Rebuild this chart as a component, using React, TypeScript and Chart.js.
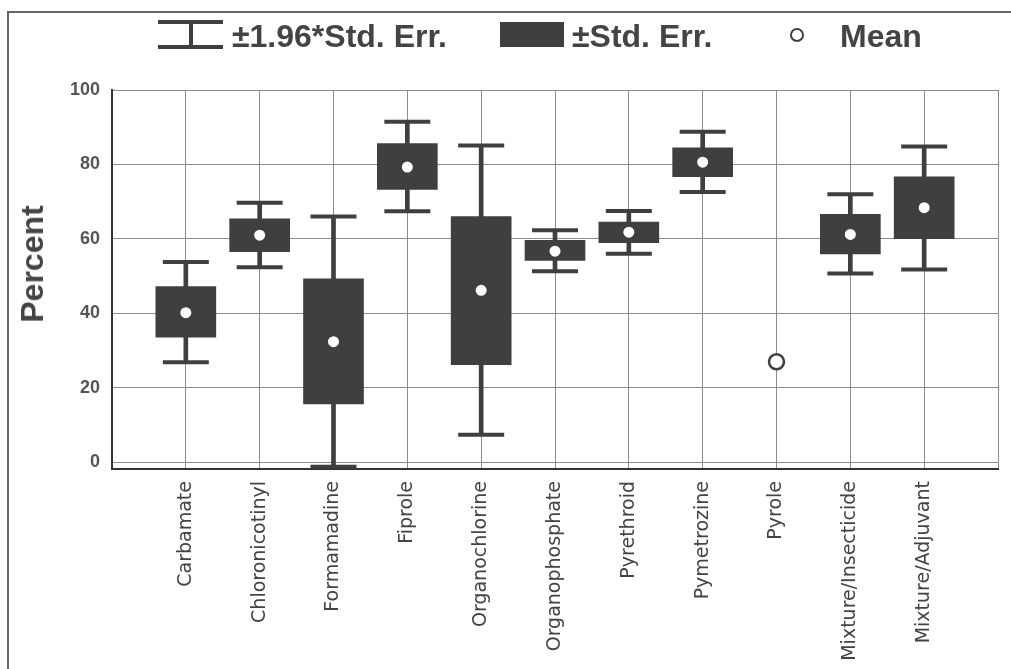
import React, { useEffect, useRef } from "react";
import { Chart, registerables } from "chart.js";

Chart.register(...registerables);

const categories = [
  "Carbamate",
  "Chloronicotinyl",
  "Formamadine",
  "Fiprole",
  "Organochlorine",
  "Organophosphate",
  "Pyrethroid",
  "Pymetrozine",
  "Pyrole",
  "Mixture/Insecticide",
  "Mixture/Adjuvant",
];

const means = [40.2, 61.0, 32.4, 79.3, 46.2, 56.7, 61.8, 80.6, 27.0, 61.2, 68.4];
const boxLow = [33.6, 56.6, 15.7, 73.3, 26.2, 54.2, 59.0, 76.7, null, 56.0, 60.1];
const boxHigh = [47.2, 65.4, 49.3, 85.6, 66.0, 59.6, 64.5, 84.5, null, 66.6, 76.7];
const whiskerLow = [26.9, 52.4, -1.2, 67.4, 7.4, 51.3, 56.0, 72.6, null, 50.7, 51.8];
const whiskerHigh = [53.8, 69.7, 66.0, 91.5, 85.1, 62.3, 67.5, 88.8, null, 72.0, 84.8];

const yTicks = [0, 20, 40, 60, 80, 100];

const DARK = "#3f3f3f";
const TEXT = "#444";

function pad<T>(arr: T[]): (T | null)[] {
  return [null, ...arr, null];
}

function range(lo: (number | null)[], hi: (number | null)[]) {
  return pad(lo.map((v, i) => (v == null || hi[i] == null ? null : [v, hi[i] as number])));
}

const capRadius = (ctx: any) => (ctx.raw == null ? 0 : 23);

export default function App() {
  const canvasRef = useRef<HTMLCanvasElement | null>(null);

  useEffect(() => {
    const canvas = canvasRef.current;
    if (!canvas) return;
    const labels = ["", ...categories, ""];
    const chart = new Chart(canvas, {
      type: "bar",
      data: {
        labels,
        datasets: [
          {
            type: "bar",
            label: "stem",
            data: range(whiskerLow, whiskerHigh) as any,
            backgroundColor: DARK,
            barThickness: 4,
            grouped: false,
            order: 4,
          } as any,
          {
            type: "line",
            label: "capLow",
            data: pad(whiskerLow) as any,
            showLine: false,
            pointStyle: "line",
            pointRadius: capRadius,
            pointBorderWidth: 4,
            pointBorderColor: DARK,
            borderColor: DARK,
            borderWidth: 0,
            order: 3,
          },
          {
            type: "line",
            label: "capHigh",
            data: pad(whiskerHigh) as any,
            showLine: false,
            pointStyle: "line",
            pointRadius: capRadius,
            pointBorderWidth: 4,
            pointBorderColor: DARK,
            borderColor: DARK,
            borderWidth: 0,
            order: 3,
          },
          {
            type: "bar",
            label: "box",
            data: range(boxLow, boxHigh) as any,
            backgroundColor: DARK,
            barThickness: 60,
            grouped: false,
            order: 2,
          } as any,
          {
            type: "line",
            label: "mean",
            data: pad(means) as any,
            showLine: false,
            pointStyle: "circle",
            pointRadius: (ctx: any) =>
              ctx.raw == null ? 0 : boxLow[ctx.dataIndex - 1] == null ? 7.5 : 6.5,
            pointBorderWidth: (ctx: any) => (boxLow[ctx.dataIndex - 1] == null ? 2.5 : 2),
            pointBackgroundColor: "#ffffff",
            pointBorderColor: DARK,
            borderWidth: 0,
            order: 1,
          },
        ],
      },
      options: {
        animation: false,
        responsive: true,
        maintainAspectRatio: false,
        layout: { padding: { left: 0, right: 13, top: 90, bottom: 0 } },
        plugins: {
          legend: { display: false },
          tooltip: { enabled: false },
        },
        scales: {
          x: {
            type: "category",
            offset: false,
            grid: { offset: false, color: "#8c8c8c", lineWidth: 1, drawTicks: false },
            border: { display: true, color: "#333", width: 2 },
            ticks: {
              autoSkip: false,
              maxRotation: 90,
              minRotation: 90,
              padding: 12,
              color: TEXT,
              font: { family: "'DejaVu Sans', sans-serif", size: 19 },
            },
            afterFit: (scale: any) => {
              scale.height = 200;
              scale.paddingLeft = 0;
              scale.paddingRight = 0;
            },
          },
          y: {
            type: "linear",
            min: -1.8,
            max: 100,
            grid: { color: "#8c8c8c", lineWidth: 1, drawTicks: false },
            border: { display: true, color: "#333", width: 2 },
            afterBuildTicks: (scale: any) => {
              scale.ticks = yTicks.map((v) => ({ value: v }));
            },
            ticks: {
              padding: 12,
              color: "#555",
              font: { family: "'Liberation Sans', Arial, sans-serif", size: 18, weight: "bold" },
            },
            afterFit: (scale: any) => {
              scale.width = 112;
            },
          },
        },
      } as any,
    });
    return () => chart.destroy();
  }, []);

  const legendText: React.CSSProperties = {
    position: "absolute",
    top: 20,
    fontFamily: "'Liberation Sans', Arial, sans-serif",
    fontWeight: "bold",
    fontSize: 32,
    lineHeight: "32px",
    color: TEXT,
    whiteSpace: "nowrap",
  };

  return (
    <div
      style={{
        position: "fixed",
        left: 0,
        top: 0,
        width: 1011,
        height: 669,
        background: "#fff",
        overflow: "hidden",
      }}
    >
      <canvas ref={canvasRef} style={{ position: "absolute", left: 0, top: 0 }} />
      {/* frame lines */}
      <div style={{ position: "absolute", left: 7, top: 11, width: 1004, height: 2, background: "#666" }} />
      <div style={{ position: "absolute", left: 7, top: 11, width: 2, height: 658, background: "#666" }} />
      {/* y-axis title */}
      <div
        style={{
          position: "absolute",
          left: 32,
          top: 264,
          transform: "translate(-50%, -50%) rotate(-90deg)",
          fontFamily: "'Liberation Sans', Arial, sans-serif",
          fontWeight: "bold",
          fontSize: 32,
          lineHeight: "32px",
          color: TEXT,
          whiteSpace: "nowrap",
        }}
      >
        Percent
      </div>
      {/* legend */}
      <div style={{ position: "absolute", left: 158, top: 20, width: 65, height: 4, background: DARK }} />
      <div style={{ position: "absolute", left: 189, top: 22, width: 4, height: 25, background: DARK }} />
      <div style={{ position: "absolute", left: 158, top: 45, width: 65, height: 4, background: DARK }} />
      <div style={{ ...legendText, left: 232 }}>±1.96*Std. Err.</div>
      <div style={{ position: "absolute", left: 500, top: 22, width: 64, height: 25, background: DARK }} />
      <div style={{ ...legendText, left: 572 }}>±Std. Err.</div>
      <div
        style={{
          position: "absolute",
          left: 790,
          top: 28,
          width: 14,
          height: 14,
          boxSizing: "border-box",
          borderRadius: "50%",
          border: `2.5px solid ${DARK}`,
          background: "#fff",
        }}
      />
      <div style={{ ...legendText, left: 840 }}>Mean</div>
    </div>
  );
}
